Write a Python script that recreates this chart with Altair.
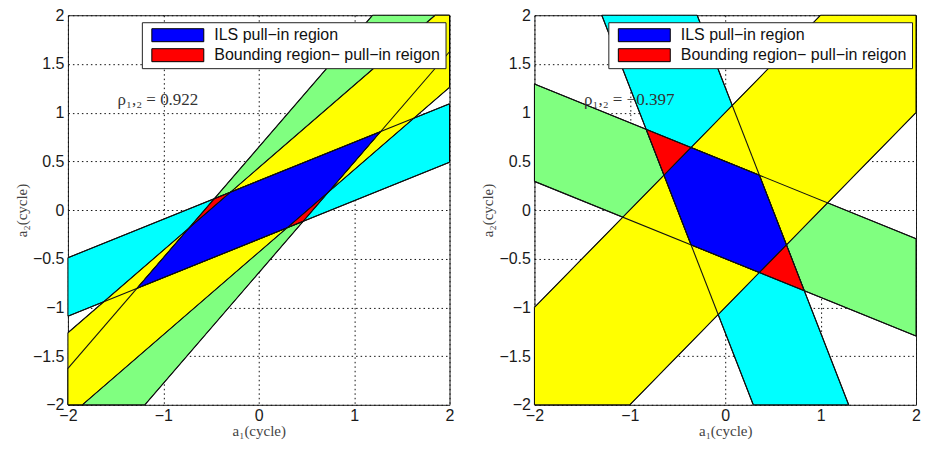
import altair as alt
import pandas as pd

ILS = "ILS pull−in region"
BND = "Bounding region− pull−in reigon"
GREEN, CYAN, YELLOW, BLUE, RED = "#80FF80", "#00FFFF", "#FFFF00", "#0000FF", "#FF0000"

x_ticks = [-2, -1, 0, 1, 2]
y_ticks = [-2, -1.5, -1, -0.5, 0, 0.5, 1, 1.5, 2]

# ---------------- left panel (rho = 0.922) ----------------
L_green_x = [-2, -1.194, 2, 2, 1.194, -2]
L_green_y = [-2, -2, 1.625, 2, 2, -1.625]
L_cyan_x = [-2, 2, 2, -2]
L_cyan_y = [-1.09, 0.49, 1.09, -0.49]
L_yellow_x = [-2, -1.849, 2, 2, 1.849, -2]
L_yellow_y = [-2, -2, 1.26, 2, 2, -1.26]
L_bound_x = [-1.277, -0.466, 1.277, 0.466]
L_bound_y = [-0.804, 0.116, 0.804, -0.116]
L_ils_x = [-1.277, -0.733, -0.297, 1.277, 0.733, 0.297]
L_ils_y = [-0.804, -0.187, 0.183, 0.804, 0.187, -0.183]
L_line_x1 = [-2, -2, -2, -1.194, -2, -1.849]
L_line_y1 = [-0.49, -1.09, -1.625, -2, -1.26, -2]
L_line_x2 = [2, 2, 1.194, 2, 1.849, 2]
L_line_y2 = [1.09, 0.49, 2, 1.625, 2, 1.26]

# ---------------- right panel (rho = -0.397) ----------------
R_green_x = [-2, 2, 2, -2]
R_green_y = [0.294, -1.294, -0.294, 1.294]
R_cyan_x = [0.294, 1.294, -0.294, -1.294]
R_cyan_y = [-2, -2, 2, 2]
R_yellow_x = [-2, -1, 2, 2, 1, -2]
R_yellow_y = [-2, -2, 1, 2, 2, -1]
R_bound_x = [0.358, -0.829, -0.358, 0.829]
R_bound_y = [0.358, 0.829, -0.358, -0.829]
R_ils_x = [-0.358, 0.358, 0.642, 0.358, -0.358, -0.642]
R_ils_y = [0.642, 0.358, -0.358, -0.642, -0.358, 0.358]
R_line_x1 = [-2, -2, -1.294, -0.294, -2, -1]
R_line_y1 = [1.294, 0.294, 2, 2, -1, -2]
R_line_x2 = [2, 2, 0.294, 1.294, 1, 2]
R_line_y2 = [-0.294, -1.294, -2, -2, 2, 1]

rho_text = ["ρ₁,₂ = 0.922", "ρ₁,₂ = −0.397"]
rho_x = [-1.48, -1.48]
rho_y = [1.13, 1.13]

LEFT = dict(green=(L_green_x, L_green_y), cyan=(L_cyan_x, L_cyan_y),
            yellow=(L_yellow_x, L_yellow_y), bound=(L_bound_x, L_bound_y),
            ils=(L_ils_x, L_ils_y), lines=(L_line_x1, L_line_y1, L_line_x2, L_line_y2))
RIGHT = dict(green=(R_green_x, R_green_y), cyan=(R_cyan_x, R_cyan_y),
             yellow=(R_yellow_x, R_yellow_y), bound=(R_bound_x, R_bound_y),
             ils=(R_ils_x, R_ils_y), lines=(R_line_x1, R_line_y1, R_line_x2, R_line_y2))


def poly_df(xs, ys, name=""):
    return pd.DataFrame({"x": xs, "y": ys, "i": list(range(len(xs))),
                         "region": [name] * len(xs)})


def panel(d, idx):
    xs = alt.Scale(domain=[-2, 2], nice=False, zero=False)
    ys = alt.Scale(domain=[-2, 2], nice=False, zero=False)
    xax = alt.Axis(values=x_ticks, format="~g", title="a₁(cycle)")
    yax = alt.Axis(values=y_ticks, format="~g", title="a₂(cycle)")
    X = alt.X("x:Q", scale=xs, axis=xax)
    Y = alt.Y("y:Q", scale=ys, axis=yax)
    layers = []
    for key, col in [("green", GREEN), ("cyan", CYAN), ("yellow", YELLOW)]:
        layers.append(
            alt.Chart(poly_df(*d[key])).mark_line(
                fill=col, stroke="black", strokeWidth=1, interpolate="linear-closed"
            ).encode(x=X, y=Y, order="i:Q")
        )
    leg = alt.Legend(title=None)
    fscale = alt.Scale(domain=[ILS, BND], range=[BLUE, RED])
    for key, name in [("bound", BND), ("ils", ILS)]:
        layers.append(
            alt.Chart(poly_df(*d[key], name)).mark_line(
                stroke="black", strokeWidth=1, interpolate="linear-closed"
            ).encode(x=X, y=Y, order="i:Q",
                     fill=alt.Fill("region:N", scale=fscale, legend=leg))
        )
    x1, y1, x2, y2 = d["lines"]
    ldf = pd.DataFrame({"x": x1, "y": y1, "x2": x2, "y2": y2})
    layers.append(
        alt.Chart(ldf).mark_rule(color="#111", strokeWidth=1.1).encode(
            x=X, y=Y, x2="x2:Q", y2="y2:Q")
    )
    tdf = pd.DataFrame({"x": [rho_x[idx]], "y": [rho_y[idx]], "t": [rho_text[idx]]})
    layers.append(
        alt.Chart(tdf).mark_text(align="left", baseline="middle", font="Liberation Serif",
                                 fontSize=17, color="#333").encode(x=X, y=Y, text="t:N")
    )
    return alt.layer(*layers).properties(width=382, height=390)


chart = alt.hconcat(panel(LEFT, 0), panel(RIGHT, 1), spacing=25).resolve_scale(
    fill="independent", x="independent", y="independent"
).resolve_legend(fill="independent").properties(
    padding={"left": 5, "top": -2, "right": 0, "bottom": 0}
).configure_view(stroke="#1e1e1e", strokeWidth=1).configure_axis(
    domain=False, ticks=False, grid=True, gridColor="#111", gridDash=[1.5, 3],
    gridWidth=1, gridOpacity=1, labelFont="Liberation Sans", labelFontSize=16,
    labelColor="#1a1a1a", labelFlush=False,
    titleFont="Liberation Serif", titleFontSize=15, titleFontWeight="normal",
    titleColor="#444"
).configure_axisX(labelPadding=3, titlePadding=0).configure_axisY(
    labelPadding=4, titlePadding=3
).configure_legend(
    orient="none", legendX=74, legendY=7, direction="vertical", fillColor="white",
    strokeColor="#222", padding=5, symbolType="M-1,-0.25H1V0.25H-1Z", symbolSize=2704,
    symbolOffset=4.5, symbolStrokeColor="black", symbolStrokeWidth=1,
    labelFont="Liberation Sans", labelFontSize=16, labelColor="#111", labelOffset=10,
    rowPadding=4, labelLimit=400, clipHeight=16
)

chart.save("out.html", embed_options={"renderer": "svg", "actions": False})
